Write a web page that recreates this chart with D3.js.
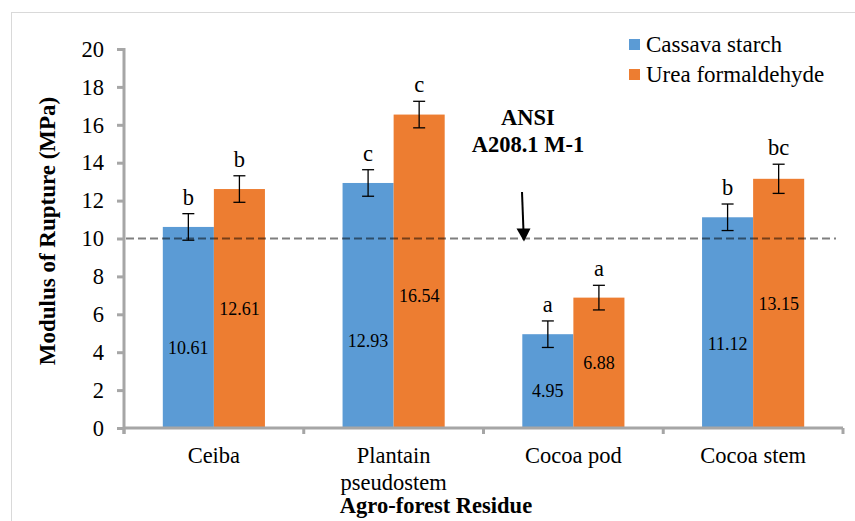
<!DOCTYPE html>
<html>
<head>
<meta charset="utf-8">
<script src="https://cdn.jsdelivr.net/npm/d3@7"></script>
<style>
  body { margin: 0; background: #fff; }
  svg text { font-family: "Liberation Serif", "Times New Roman", serif; fill: #000; }
</style>
</head>
<body>
<svg id="svg" width="855" height="521"></svg>
<script>
// chart values
var categories = ["Ceiba", "Plantain\npseudostem", "Cocoa pod", "Cocoa stem"];
var seriesNames = ["Cassava starch", "Urea formaldehyde"];
var cassava = [10.61, 12.93, 4.95, 11.12];
var urea = [12.61, 16.54, 6.88, 13.15];
var cassavaErr = [0.7, 0.7, 0.7, 0.7];
var ureaErr = [0.7, 0.7, 0.65, 0.77];
var cassavaLetters = ["b", "c", "a", "b"];
var ureaLetters = ["b", "c", "a", "bc"];
var yTicks = [0, 2, 4, 6, 8, 10, 12, 14, 16, 18, 20];
var standardValue = 10;
var standardLabel = ["ANSI", "A208.1 M-1"];

var colors = ["#5b9bd5", "#ed7d31"];
var axisColor = "#a6a6a6";

var svg = d3.select("#svg");

// light frame around the chart area
svg.append("rect")
    .attr("x", 11.5).attr("y", 12.5)
    .attr("width", 900).attr("height", 600)
    .attr("fill", "none")
    .attr("stroke", "#d9d9d9");

var plotLeft = 124, plotRight = 843, plotTop = 49, plotBottom = 428;

var x0 = d3.scaleBand().domain(categories).range([plotLeft, plotRight]).padding(0);
var x1 = d3.scaleBand().domain([0, 1]).range([0, x0.bandwidth()])
    .paddingInner(0).paddingOuter(0.76);
var y = d3.scaleLinear().domain([0, 20]).range([plotBottom, plotTop]);

var series = [
    { name: seriesNames[0], values: cassava, err: cassavaErr, letters: cassavaLetters },
    { name: seriesNames[1], values: urea, err: ureaErr, letters: ureaLetters }
];

// y axis
var yAxis = d3.axisLeft(y).tickValues(yTicks).tickSize(7).tickSizeOuter(0).tickPadding(13);
var gy = svg.append("g")
    .attr("transform", "translate(" + plotLeft + ",0)")
    .call(yAxis);
gy.select(".domain").remove();
gy.selectAll(".tick line").attr("stroke", axisColor).attr("stroke-width", 3);
gy.selectAll(".tick text")
    .attr("font-size", "22.5px")
    .style("font-family", '"Liberation Serif", "Times New Roman", serif')
    .attr("fill", "#000");

// bars
series.forEach(function(s, si) {
    svg.append("g").selectAll("rect")
        .data(s.values)
        .enter()
        .append("rect")
        .attr("x", function(d, i) { return x0(categories[i]) + x1(si); })
        .attr("y", function(d) { return y(d); })
        .attr("width", x1.bandwidth())
        .attr("height", function(d) { return y(0) - y(d); })
        .attr("fill", colors[si]);
});

// axis lines over the bars
svg.append("line")
    .attr("x1", plotLeft).attr("x2", plotLeft)
    .attr("y1", plotTop - 1).attr("y2", plotBottom + 6)
    .attr("stroke", axisColor).attr("stroke-width", 3);
svg.append("line")
    .attr("x1", plotLeft).attr("x2", plotRight)
    .attr("y1", plotBottom).attr("y2", plotBottom)
    .attr("stroke", axisColor).attr("stroke-width", 3);
var bounds = categories.map(function(c) { return x0(c); }).concat([x0.range()[1]]);
svg.append("g").selectAll("line")
    .data(bounds)
    .enter()
    .append("line")
    .attr("x1", function(d) { return d; })
    .attr("x2", function(d) { return d; })
    .attr("y1", plotBottom)
    .attr("y2", plotBottom + 6)
    .attr("stroke", axisColor)
    .attr("stroke-width", 3);

// category labels
var catText = svg.append("g").selectAll("text")
    .data(categories)
    .enter()
    .append("text")
    .attr("text-anchor", "middle")
    .attr("font-size", "22.5px")
    .attr("y", plotBottom + 35);
catText.each(function(d) {
    var t = d3.select(this);
    d.split("\n").forEach(function(line, li) {
        t.append("tspan")
            .attr("x", x0(d) + x0.bandwidth() / 2)
            .attr("dy", li === 0 ? 0 : 27)
            .text(line);
    });
});

// standard line
svg.append("line")
    .attr("x1", plotLeft + 2).attr("x2", 836)
    .attr("y1", y(standardValue)).attr("y2", y(standardValue))
    .attr("stroke", "#000")
    .attr("stroke-opacity", 0.5)
    .attr("stroke-width", 2)
    .attr("stroke-dasharray", "8,4");

// error bars, letters and value labels
series.forEach(function(s, si) {
    var g = svg.append("g");
    s.values.forEach(function(v, i) {
        var cx = x0(categories[i]) + x1(si) + x1.bandwidth() / 2;
        var hi = y(v + s.err[i]), lo = y(v - s.err[i]);
        g.append("line").attr("x1", cx).attr("x2", cx).attr("y1", hi).attr("y2", lo);
        g.append("line").attr("x1", cx - 6).attr("x2", cx + 6).attr("y1", hi).attr("y2", hi);
        g.append("line").attr("x1", cx - 6).attr("x2", cx + 6).attr("y1", lo).attr("y2", lo);
        svg.append("text")
            .attr("x", cx)
            .attr("y", hi - 9)
            .attr("text-anchor", "middle")
            .attr("font-size", "22.5px")
            .text(s.letters[i]);
        var labelAt = si === 0 ? Math.min(v * 0.4, 4.6) : Math.min(v * 0.5, 7);
        svg.append("text")
            .attr("x", cx)
            .attr("y", y(labelAt))
            .attr("dy", "0.35em")
            .attr("text-anchor", "middle")
            .attr("font-size", "18px")
            .text(v.toFixed(2));
    });
    g.selectAll("line").attr("stroke", "#000").attr("stroke-width", 1.3);
});

// ANSI annotation with arrow
svg.append("text")
    .attr("x", 528).attr("y", 125)
    .attr("text-anchor", "middle")
    .attr("font-size", "22.5px")
    .attr("font-weight", "bold")
    .text(standardLabel[0]);
svg.append("text")
    .attr("x", 528).attr("y", 152)
    .attr("text-anchor", "middle")
    .attr("font-size", "22.5px")
    .attr("font-weight", "bold")
    .text(standardLabel[1]);
var tipY = y(standardValue) + 3;
svg.append("line")
    .attr("x1", 522).attr("y1", 192)
    .attr("x2", 523.5).attr("y2", tipY - 10)
    .attr("stroke", "#000").attr("stroke-width", 2);
svg.append("path")
    .attr("d", "M516.5," + (tipY - 13) + " L530.5," + (tipY - 13) + " L524," + tipY + " Z")
    .attr("fill", "#000");

// legend
var legend = svg.append("g").selectAll("g")
    .data(seriesNames)
    .enter()
    .append("g")
    .attr("transform", function(d, i) { return "translate(629," + (39 + i * 30) + ")"; });
legend.append("rect")
    .attr("width", 11).attr("height", 11)
    .attr("fill", function(d, i) { return colors[i]; });
legend.append("text")
    .attr("x", 17).attr("y", 12.5)
    .attr("font-size", "23px")
    .text(function(d) { return d; });

// axis titles
svg.append("text")
    .attr("transform", "translate(55,231) rotate(-90)")
    .attr("text-anchor", "middle")
    .attr("font-size", "23px")
    .attr("font-weight", "bold")
    .text("Modulus of Rupture (MPa)");
svg.append("text")
    .attr("x", 436).attr("y", 513)
    .attr("text-anchor", "middle")
    .attr("font-size", "22.5px")
    .attr("font-weight", "bold")
    .text("Agro-forest Residue");
</script>
</body>
</html>
